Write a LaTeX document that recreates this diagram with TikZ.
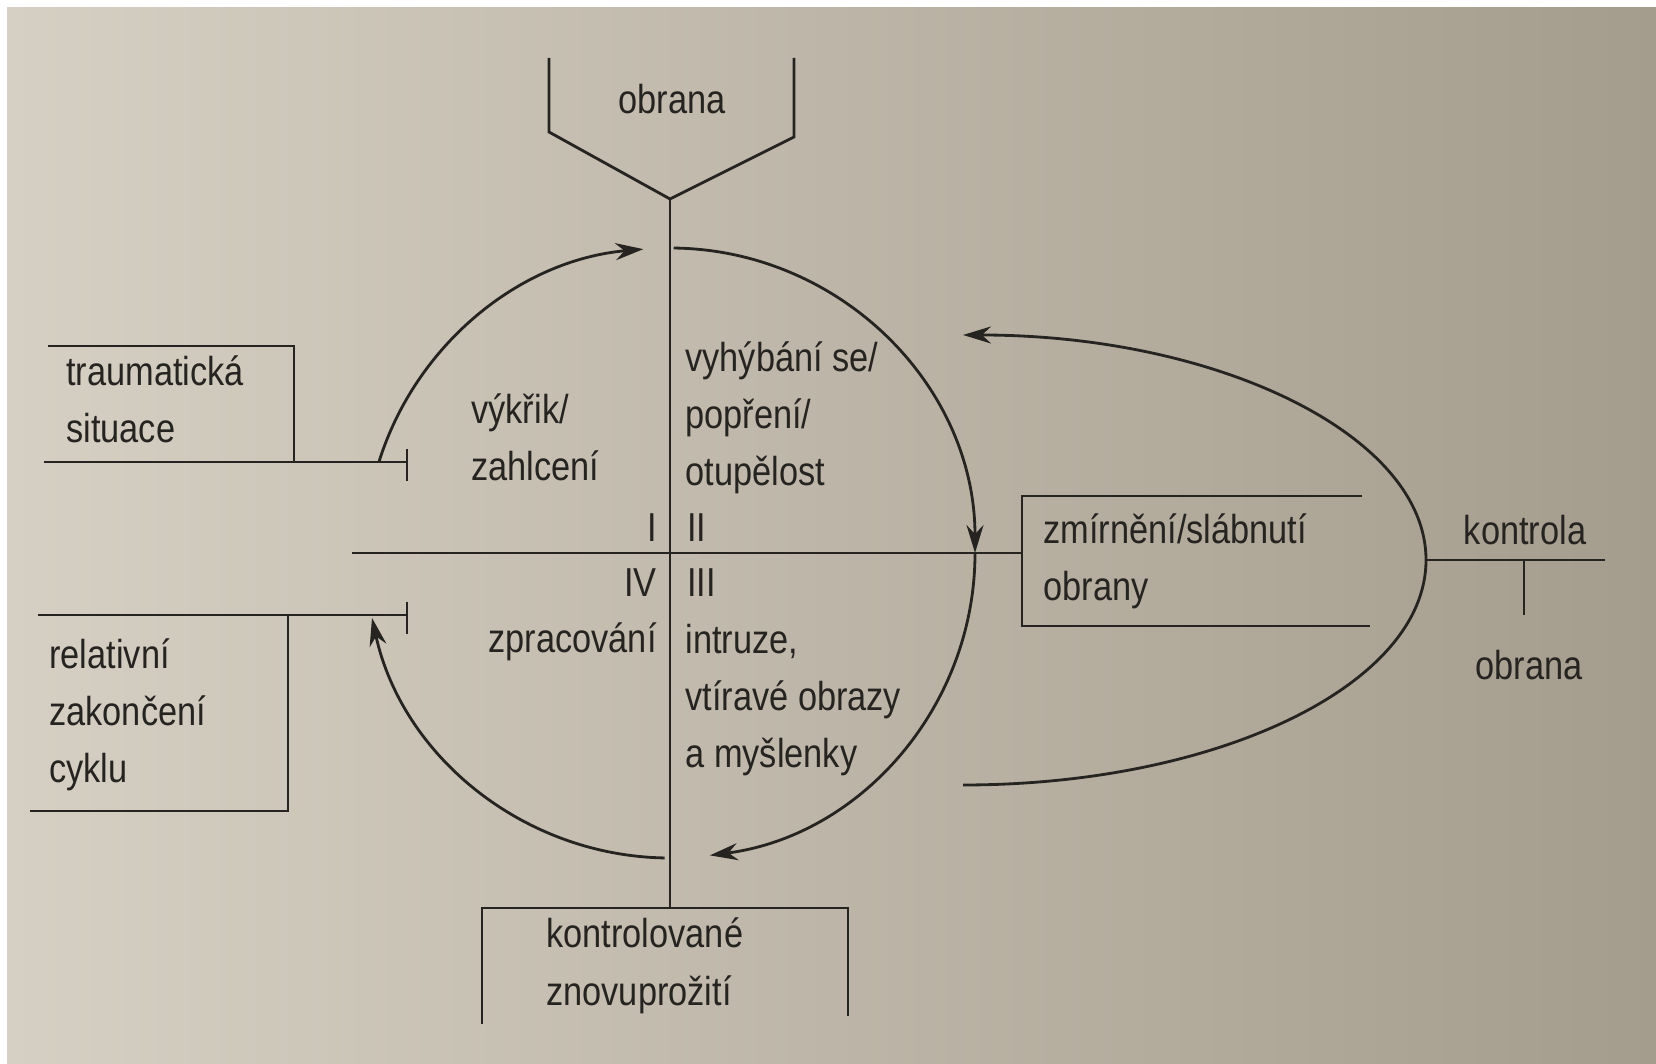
\documentclass[tikz,border=0pt]{standalone}
\usepackage{fontspec}
\setmainfont{Liberation Sans}[FakeStretch=0.85]
\usetikzlibrary{arrows.meta}
\definecolor{ink}{RGB}{38,36,33}
\definecolor{paperL}{RGB}{214,208,196}
\definecolor{paperR}{RGB}{164,156,140}

\begin{document}
\begin{tikzpicture}[x=1mm,y=-1mm,line width=.8pt,
  ln/.style={draw=ink,line width=.8pt},
  arr/.style={-{Stealth[length=2.8mm,width=1.7mm]}},
  lbl/.style={inner sep=0pt,text=ink,align=left,font=\fontsize{11.5}{16.3}\selectfont}]
\path[use as bounding box,fill=white] (0,0) rectangle (165.6,106.4);
\shade[left color=paperL,right color=paperR] (0.7,0.8) rectangle (165.6,106.4);
% funnel on top and the two axes
\draw[ln] (54.9,5.8) -- (54.9,13.2) -- (67,19.9) coordinate (top) -- (79.4,13.7) -- (79.4,5.8);
\node[lbl,anchor=base] (obranaT) at (67.2,11.4) {obrana};
\coordinate (c) at (67,55.3);
\draw[ln] (top) -- (67,90.8) coordinate (bot);
\draw[ln] (35.2,55.3) coordinate (axL) -- (102.2,55.3) coordinate (axR);
% quadrant numbers
\node[lbl,anchor=base east] (q1) at (65.8,54.2) {I};
\node[lbl,anchor=base west] (q2) at (68.6,54.2) {II};
\node[lbl,anchor=base west] (q3) at (68.6,59.7) {III};
\node[lbl,anchor=base east] (q4) at (65.8,59.7) {IV};
% the cycle
\draw[ln,arr] (c) ++(-162.6:30.5) arc[start angle=-162.6,end angle=-95,radius=30.5];
\draw[ln,arr] (c) ++(-89.3:30.5) arc[start angle=-89.3,end angle=0,radius=30.5];
\draw[ln,arr] (c) ++(0:30.5) arc[start angle=0,end angle=82.5,radius=30.5];
\draw[ln,arr] (c) ++(91:30.5) arc[start angle=91,end angle=167.7,radius=30.5];
% phases (base = last line)
\node[lbl,anchor=base west] (vykrik) at (47.0,48.1) {výkřik/\\zahlcení};
\node[lbl,anchor=base west] (vyhyb) at (68.4,48.6) {vyhýbání se/\\popření/\\otupělost};
\node[lbl,anchor=base east] (zprac) at (65.8,65.3) {zpracování};
\node[lbl,anchor=base west] (intruze) at (68.4,76.8) {intruze,\\vtíravé obrazy\\a myšlenky};
% left boxes
\draw[ln] (4.8,34.6) -- (29.4,34.6) -- (29.4,46.2);
\draw[ln] (4.4,46.2) -- (40.7,46.2) coordinate (trEnd);
\draw[ln] (40.7,44.9) -- (40.7,48.1);
\node[lbl,anchor=base west] (trauma) at (6.5,44.3) {traumatická\\situace};
\draw[ln] (3.8,61.5) -- (40.7,61.5) coordinate (relEnd);
\draw[ln] (40.7,60.2) -- (40.7,63.4);
\draw[ln] (28.8,61.5) -- (28.8,81.1) -- (3.0,81.1);
\node[lbl,anchor=base west] (relat) at (4.8,78.3) {relativní\\zakončení\\cyklu};
% bottom box
\draw[ln] (48.2,102.4) -- (48.2,90.8) -- (84.8,90.8) -- (84.8,101.6);
\node[lbl,anchor=base west] (kontrol) at (54.5,100.5) {kontrolované\\znovuprožití};
% right box and the loop of control
\draw[ln] (136.2,49.6) -- (102.2,49.6) -- (102.2,62.6) -- (137.0,62.6);
\node[lbl,anchor=base west] (zmirn) at (104.2,60.1) {zmírnění/slábnutí\\obrany};
\coordinate (e) at (96.3,56.0);
\draw[ln,arr] (e) ++(90:46.3 and 22.5) arc[start angle=90,end angle=-90,x radius=46.3,y radius=22.5];
\coordinate (kL) at (142.6,56.0);
\coordinate (kR) at (160.5,56.0);
\coordinate (kT) at (152.4,56.0);
\coordinate (kB) at (152.4,61.5);
\draw[ln] (kL) -- (kR);
\draw[ln] (kT) -- (kB);
\node[lbl,anchor=base] (kontrola) at (152.5,54.5) {kontrola};
\node[lbl,anchor=base] (obranaR) at (152.9,68.0) {obrana};
\end{tikzpicture}
\end{document}
